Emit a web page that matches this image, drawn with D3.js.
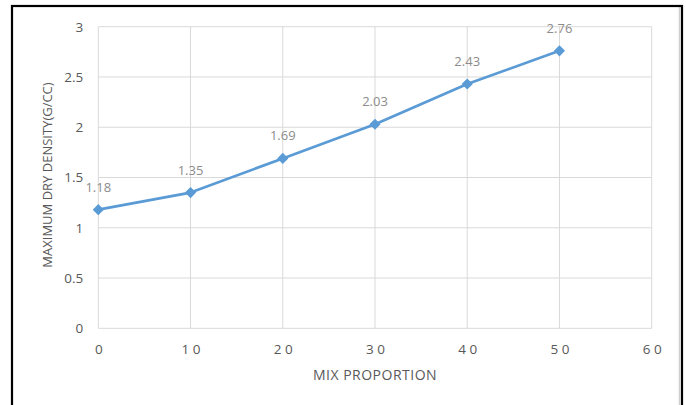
<!DOCTYPE html>
<html><head><meta charset="utf-8">
<script src="https://cdn.jsdelivr.net/npm/d3@7"></script>
<style>html,body{margin:0;padding:0;background:#fff;}svg{display:block;}</style>
</head><body>
<script>
const mixProportion = [0, 10, 20, 30, 40, 50];
const maxDryDensity = [1.18, 1.35, 1.69, 2.03, 2.43, 2.76];
const xTicks = [0, 10, 20, 30, 40, 50, 60];
const yTicks = [0, 0.5, 1, 1.5, 2, 2.5, 3];
const xTitle = "MIX PROPORTION";
const yTitle = "MAXIMUM DRY DENSITY(G/CC)";

const W = 686, H = 405;
const m = {left: 98.3, right: 686 - 651.7, top: 26.7, bottom: 405 - 328.3};
const svg = d3.select("body").append("svg").attr("width", W).attr("height", H);
const font = "'Open Sans', 'Liberation Sans', sans-serif";

svg.append("rect").attr("x", 0).attr("y", 0).attr("width", W).attr("height", H).attr("fill", "#fff");

// frame
svg.append("line").attr("x1", 679.5).attr("x2", 679.5).attr("y1", 7).attr("y2", H)
  .attr("stroke", "#d0d0d0").attr("stroke-width", 1.5);
svg.append("rect").attr("x", 12).attr("y", 6).attr("width", 670).attr("height", 420)
  .attr("fill", "none").attr("stroke", "#000").attr("stroke-width", 2.2);

const x = d3.scaleLinear().domain([0, 60]).range([m.left, W - m.right]);
const y = d3.scaleLinear().domain([0, 3]).range([H - m.bottom, m.top]);

// gridlines
const g = svg.append("g");
g.selectAll("line.h").data(yTicks).join("line")
  .attr("x1", x(0)).attr("x2", x(60)).attr("y1", d => y(d)).attr("y2", d => y(d))
  .attr("stroke", "#d9d9d9").attr("stroke-width", 1);
g.selectAll("line.v").data(xTicks).join("line")
  .attr("y1", y(0)).attr("y2", y(3)).attr("x1", d => x(d)).attr("x2", d => x(d))
  .attr("stroke", "#d9d9d9").attr("stroke-width", 1);

// y axis labels
const yAxis = d3.axisLeft(y).tickValues(yTicks).tickSize(0).tickPadding(15).tickFormat(d3.format("~g"));
const ya = svg.append("g").attr("transform", `translate(${x(0)},0)`).call(yAxis);
ya.select(".domain").remove();
ya.selectAll("text").attr("font-family", font).attr("font-size", 13.5).attr("fill", "#595959");

// x axis labels
const xAxis = d3.axisBottom(x).tickValues(xTicks).tickSize(0).tickPadding(16).tickFormat(d3.format("d"));
const xa = svg.append("g").attr("transform", `translate(0,${y(0)})`).call(xAxis);
xa.select(".domain").remove();
xa.selectAll("text").attr("font-family", font).attr("font-size", 13.5).attr("fill", "#595959")
  .attr("letter-spacing", "3.5px").attr("dx", "1.7px");

// titles
svg.append("text").attr("x", (x(0) + x(60)) / 2).attr("y", 380)
  .attr("text-anchor", "middle").attr("font-family", font).attr("font-size", 14)
  .attr("letter-spacing", "0.5px")
  .attr("fill", "#595959").text(xTitle);
svg.append("text").attr("transform", `translate(52,175) rotate(-90)`)
  .attr("text-anchor", "middle").attr("font-family", font).attr("font-size", 13)
  .attr("fill", "#595959").text(yTitle);

const data = mixProportion.map((v, i) => ({x: v, y: maxDryDensity[i]}));

// line
svg.append("path").datum(data)
  .attr("d", d3.line().x(d => x(d.x)).y(d => y(d.y)))
  .attr("fill", "none").attr("stroke", "#5b9bd5").attr("stroke-width", 2.7).attr("stroke-linejoin", "round");

// markers
svg.selectAll("path.mk").data(data).join("path").attr("class", "mk")
  .attr("d", d3.symbol(d3.symbolSquare, 62))
  .attr("transform", d => `translate(${x(d.x)},${y(d.y)}) rotate(45)`)
  .attr("fill", "#5b9bd5");

// data labels
svg.selectAll("text.lbl").data(data).join("text").attr("class", "lbl")
  .attr("x", d => x(d.x)).attr("y", d => y(d.y) - 18)
  .attr("text-anchor", "middle").attr("font-family", font).attr("font-size", 13)
  .attr("fill", "#8c8c8c").text(d => d3.format(".2f")(d.y));
</script>
</body></html>
